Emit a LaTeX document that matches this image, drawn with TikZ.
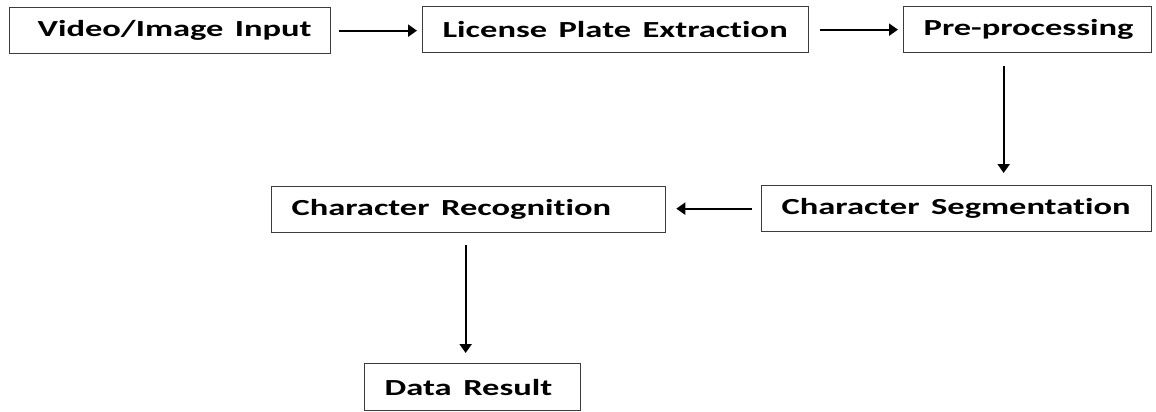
\documentclass[tikz,border=0pt]{standalone}
\usepackage{tikz}
\usepackage{xcolor}
\usepackage{graphicx}
\usepackage{fontspec}
\setmainfont{Carlito}[Ligatures=NoCommon]
\usetikzlibrary{arrows.meta,positioning}
\definecolor{boxgray}{RGB}{60,60,60}
\newcommand{\widetext}[1]{\scalebox{1.5}[1]{#1}}

\begin{document}
\begin{tikzpicture}[x=1pt, y=-1pt,
					stage/.style={draw=boxgray, line width=1.3pt, anchor=north west, minimum height=46,
						inner xsep=20, inner ysep=0, align=left, font=\fontsize{23}{27}\selectfont\bfseries},
					flow/.style={line width=2.2pt, -{Triangle[length=9,width=12]}}]
					
					\useasboundingbox (0,0) rectangle (1156,412);
					
					\node[stage, text width=265, inner xsep=28] (vid) at (9,7) {\widetext{Video/Image Input}};
					\node[stage, text width=346] (lpe) at (422,6) {\widetext{License Plate Extraction}};
					\node[stage, text width=208] (pre) at (903,6) {\widetext{Pre-processing}};
					\node[stage, text width=350] (seg) at (761,185) {\widetext{Character Segmentation}};
					\node[stage, text width=354] (rec) at (271,186) {\widetext{Character Recognition}};
					\node[stage, text width=176, minimum height=47] (res) at (364,363) {\widetext{Data Result}};
					
					\draw[flow] ([xshift=8]vid.east) -- ([xshift=-5]vid.east -| lpe.west);
					\draw[flow] ([xshift=11]lpe.east) -- ([xshift=-5]lpe.east -| pre.west);
					\draw[flow] ([xshift=-24,yshift=-13]pre.south) -- ([xshift=-24,yshift=12]pre.south |- seg.north);
					\draw[flow] ([xshift=-9]seg.west) -- ([xshift=10]seg.west -| rec.east);
					\draw[flow] ([xshift=-3,yshift=-12]rec.south) -- ([xshift=-3,yshift=10]rec.south |- res.north);
				\end{tikzpicture}
\end{document}
